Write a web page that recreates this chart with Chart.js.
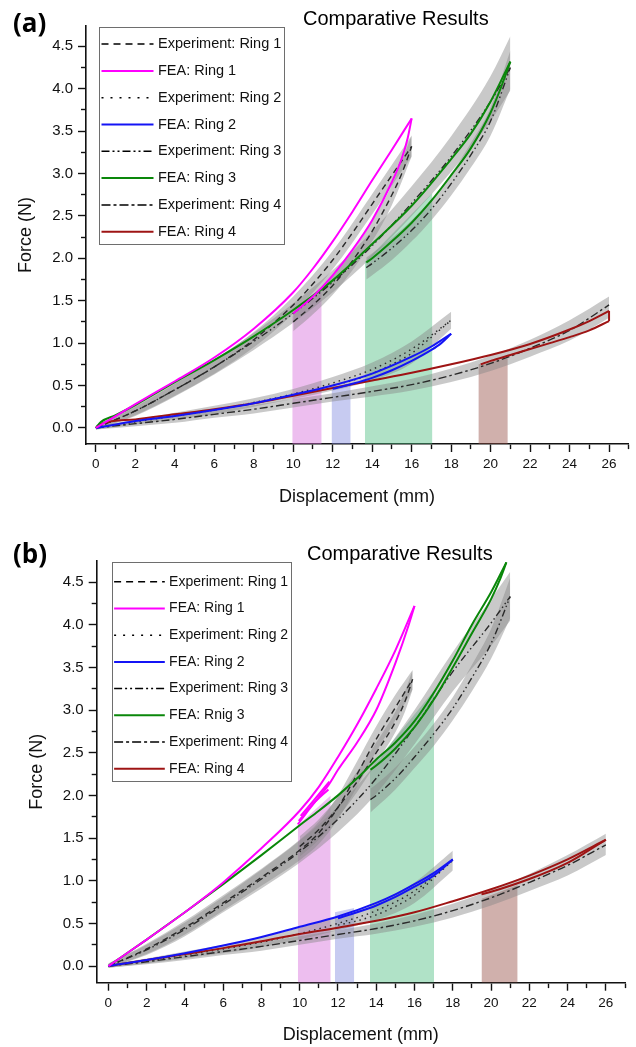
<!DOCTYPE html>
<html>
<head>
<meta charset="utf-8">
<script src="https://cdn.jsdelivr.net/npm/chart.js@4.4.0/dist/chart.umd.min.js"></script>
<style>
  body { margin: 0; background: #fff; width: 636px; height: 1047px; position: relative; overflow: hidden; font-family: "Liberation Sans", Arial, sans-serif; }
  canvas { position: absolute; left: 0; }
  #cvA { top: 0; }
  #cvB { top: 515px; }
  .tag { position: absolute; left: 13px; font-family: "Open Sans", sans-serif; font-weight: bold; font-size: 26px; line-height: 26px; }
  .ttl { position: absolute; font-size: 20px; line-height: 20px; color: #000; }
</style>
</head>
<body>
<canvas id="cvA" width="636" height="515"></canvas>
<canvas id="cvB" width="636" height="532"></canvas>
<div class="tag" style="top:9px">(a)</div>
<div class="ttl" style="left:303px;top:8px">Comparative Results</div>
<div class="tag" style="top:540px">(b)</div>
<div class="ttl" style="left:307px;top:543px">Comparative Results</div>
<script>
//---- ticks
var xTicks = [0,1,2,3,4,5,6,7,8,9,10,11,12,13,14,15,16,17,18,19,20,21,22,23,24,25,26,27];
var yTicks = [0,0.25,0.5,0.75,1,1.25,1.5,1.75,2,2.25,2.5,2.75,3,3.25,3.5,3.75,4,4.25,4.5];

//---- legend
var legendLabelsA = ['Experiment: Ring 1','FEA: Ring 1','Experiment: Ring 2','FEA: Ring 2','Experiment: Ring 3','FEA: Ring 3','Experiment: Ring 4','FEA: Ring 4'];
var legendLabelsB = ['Experiment: Ring 1','FEA: Ring 1','Experiment: Ring 2','FEA: Ring 2','Experiment: Ring 3','FEA: Rnig 3','Experiment: Ring 4','FEA: Ring 4'];

//---- panel (a) FEA loops (loading / unloading branch)
var aFea1Load   = [[0,0],[1,0.14],[2,0.28],[4,0.55],[6,0.83],[8,1.17],[10,1.6],[11,1.88],[12,2.2],[13,2.55],[14,2.92],[15,3.28],[16,3.65]];
var aFea1Unload = [[10,1.35],[11,1.55],[12,1.8],[13,2.1],[14,2.45],[15,2.9],[15.5,3.18],[15.8,3.42],[16,3.65]];
var aFea2Load   = [[0,0],[1,0.04],[2,0.08],[4,0.14],[6,0.21],[8,0.29],[10,0.39],[12,0.5],[14,0.64],[16,0.84],[17,0.96],[18,1.11]];
var aFea2Unload = [[12,0.46],[13,0.52],[14,0.59],[15,0.68],[16,0.79],[17,0.92],[17.5,1.0],[18,1.11]];
var aFea3Load   = [[0,0],[0.25,0.07],[1,0.15],[2,0.27],[4,0.54],[6,0.8],[8,1.08],[10,1.39],[12,1.74],[14,2.17],[16,2.62],[18,3.17],[19,3.47],[20,3.85],[21,4.32]];
var aFea3Unload = [[13.7,1.95],[14,2.0],[15,2.2],[16,2.42],[17,2.68],[18,2.98],[19,3.3],[20,3.72],[20.5,4.0],[21,4.32]];
var aFea4Load   = [[0,0],[0.3,0.05],[2,0.1],[4,0.16],[6,0.22],[8,0.29],[10,0.38],[12,0.47],[14,0.56],[16,0.65],[18,0.75],[20,0.86],[22,0.99],[24,1.16],[25,1.26],[26,1.38]];
var aFea4Unload = [[19.5,0.75],[20,0.79],[21,0.86],[22,0.93],[23,1.0],[24,1.07],[25,1.15],[26,1.26]];
var aFea4Tip    = [[26,1.26],[26,1.38]];

//---- panel (a) experiments: mean lines and grey scatter bands
var aExp1Load     = [[0,0],[2,0.2],[4,0.45],[6,0.72],[8,1.04],[10,1.45],[11,1.7],[12,1.98],[13,2.3],[14,2.64],[15,2.98],[16,3.32]];
var aExp1Unload   = [[10,1.25],[11,1.45],[12,1.68],[13,1.97],[14,2.32],[15,2.75],[15.5,3.0],[16,3.32]];
var aExp1LoadHi   = [[0,0.03],[2,0.25],[4,0.52],[6,0.8],[8,1.13],[10,1.55],[12,2.09],[14,2.76],[16,3.45]];
var aExp1LoadLo   = [[0,-0.02],[2,0.15],[4,0.38],[6,0.64],[8,0.95],[10,1.35],[12,1.87],[14,2.52],[16,3.2]];
var aExp1UnloadHi = [[10,1.36],[11,1.56],[12,1.79],[13,2.08],[14,2.44],[15,2.87],[16,3.45]];
var aExp1UnloadLo = [[10,1.14],[11,1.34],[12,1.57],[13,1.86],[14,2.2],[15,2.63],[16,3.2]];
var aExp2Load     = [[0,0],[2,0.07],[4,0.14],[6,0.21],[8,0.3],[10,0.4],[12,0.53],[14,0.69],[16,0.93],[18,1.27]];
var aExp2Unload   = [[12,0.5],[13,0.56],[14,0.64],[15,0.75],[16,0.88],[17,1.07],[18,1.27]];
var aExp2Hi       = [[0,0.02],[2,0.1],[4,0.18],[6,0.26],[8,0.35],[10,0.46],[12,0.6],[14,0.77],[16,1.02],[18,1.37]];
var aExp2Lo       = [[0,-0.02],[2,0.04],[4,0.1],[6,0.16],[8,0.25],[10,0.34],[12,0.44],[14,0.56],[16,0.76],[18,1.17]];
var aExp3Load     = [[0,0],[2,0.2],[4,0.45],[6,0.72],[8,1.02],[10,1.35],[12,1.72],[14,2.15],[16,2.65],[18,3.2],[20,3.85],[21,4.25]];
var aExp3Unload   = [[13.7,1.89],[14,1.94],[15,2.12],[16,2.33],[17,2.58],[18,2.88],[19,3.22],[20,3.62],[21,4.25]];
var aExp3LoadHi   = [[0,0.03],[2,0.26],[4,0.53],[6,0.81],[8,1.12],[10,1.47],[12,1.86],[14,2.32],[16,2.85],[18,3.44],[20,4.15],[21,4.62]];
var aExp3LoadLo   = [[0,-0.02],[2,0.14],[4,0.37],[6,0.63],[8,0.92],[10,1.24],[12,1.6],[14,2.02],[16,2.5],[18,3.02],[20,3.62],[21,3.98]];
var aExp3UnloadHi = [[13.7,2.01],[14,2.06],[15,2.24],[16,2.45],[17,2.7],[18,3.0],[19,3.36],[20,3.78],[21,4.45]];
var aExp3UnloadLo = [[13.7,1.75],[14,1.8],[15,1.98],[16,2.2],[17,2.45],[18,2.74],[19,3.07],[20,3.45],[21,4.0]];
var aExp4         = [[0,0],[2,0.05],[4,0.1],[6,0.16],[8,0.22],[10,0.29],[12,0.36],[14,0.43],[16,0.51],[18,0.62],[20,0.76],[22,0.94],[24,1.15],[26,1.45]];
var aExp4Hi       = [[0,0.02],[2,0.08],[4,0.14],[6,0.2],[8,0.27],[10,0.34],[12,0.41],[14,0.49],[16,0.58],[18,0.7],[20,0.85],[22,1.04],[24,1.27],[26,1.55]];
var aExp4Lo       = [[0,-0.02],[2,0.02],[4,0.06],[6,0.12],[8,0.17],[10,0.24],[12,0.31],[14,0.37],[16,0.44],[18,0.54],[20,0.67],[22,0.84],[24,1.03],[26,1.3]];

//---- panel (a) shaded ranges (top edge, filled down to axis)
var aPink  = [[9.95,1.32],[11.44,1.62]];
var aBlue  = [[11.94,0.48],[12.91,0.53]];
var aGreen = [[13.63,1.96],[17.05,2.77]];
var aBrown = [[19.38,0.75],[20.87,0.82]];

//---- panel (b) FEA loops
var bFea1Load   = [[0,0],[2,0.31],[4,0.63],[5,0.8],[6,0.98],[8,1.38],[10,1.82],[11,2.1],[12,2.45],[13,2.83],[14,3.25],[15,3.7],[16,4.22]];
var bFea1Unload = [[9.9,1.66],[10.5,1.84],[11,1.98],[11.5,2.12],[12,2.3],[13,2.62],[14,3.0],[15,3.55],[15.7,4.0],[16,4.22]];
var bFea1Cycle1 = [[9.95,1.7],[10.7,1.9],[11.5,2.07]];
var bFea1Cycle2 = [[10.05,1.76],[10.8,1.96],[11.55,2.16]];
var bFea2Load   = [[0,0],[2,0.07],[4,0.15],[6,0.24],[8,0.34],[10,0.46],[12,0.58],[14,0.74],[15,0.84],[16,0.96],[17,1.09],[18,1.25]];
var bFea2Unload = [[12,0.56],[13,0.63],[14,0.71],[15,0.81],[16,0.93],[17,1.06],[17.5,1.15],[18,1.25]];
var bFea3Load   = [[0,0],[2,0.31],[4,0.63],[6,0.96],[8,1.3],[10,1.65],[11,1.82],[12,2.0],[13,2.2],[14,2.42],[15,2.62],[16,2.87],[17,3.2],[18,3.58],[19,4.0],[20,4.38],[20.8,4.73]];
var bFea3Unload = [[13.7,2.3],[14,2.35],[15,2.55],[16,2.8],[17,3.12],[18,3.5],[19,3.9],[20,4.3],[20.5,4.55],[20.8,4.73]];
var bFea4Load   = [[0,0],[2,0.07],[4,0.14],[6,0.21],[8,0.29],[10,0.375],[12,0.45],[14,0.53],[16,0.63],[18,0.76],[20,0.9],[22,1.06],[24,1.25],[26,1.48]];
var bFea4Unload = [[19.5,0.84],[20,0.87],[22,1.02],[24,1.21],[25,1.34],[26,1.48]];

//---- panel (b) experiments
var bExp1Load     = [[0,0],[2,0.2],[4,0.45],[6,0.74],[8,1.04],[10,1.36],[11,1.56],[12,1.86],[13,2.25],[14,2.66],[15,3.03],[15.9,3.36]];
var bExp1Unload   = [[10,1.4],[11,1.6],[12,1.86],[13,2.16],[14,2.5],[15,2.86],[15.5,3.1],[15.9,3.36]];
var bExp1LoadHi   = [[0,0.03],[2,0.26],[4,0.53],[6,0.83],[8,1.14],[10,1.48],[11,1.69],[12,2.0],[13,2.4],[14,2.81],[15,3.18],[15.9,3.47]];
var bExp1LoadLo   = [[0,-0.02],[2,0.14],[4,0.37],[6,0.65],[8,0.94],[10,1.24],[11,1.43],[12,1.72],[13,2.1],[14,2.51],[15,2.88],[15.9,3.24]];
var bExp1UnloadHi = [[10,1.52],[11,1.72],[12,1.98],[13,2.28],[14,2.62],[15,2.98],[15.5,3.22],[15.9,3.47]];
var bExp1UnloadLo = [[10,1.28],[11,1.48],[12,1.74],[13,2.04],[14,2.38],[15,2.74],[15.5,2.98],[15.9,3.24]];
var bExp2Load     = [[0,0],[2,0.06],[4,0.13],[6,0.2],[8,0.28],[10,0.38],[12,0.5],[14,0.65],[16,0.88],[18,1.24]];
var bExp2Unload   = [[12,0.48],[13,0.53],[14,0.6],[15,0.7],[16,0.83],[17,1.03],[18,1.24]];
var bExp2Hi       = [[0,0.02],[2,0.09],[4,0.17],[6,0.25],[8,0.34],[10,0.45],[12,0.58],[14,0.74],[16,0.98],[18,1.35]];
var bExp2Lo       = [[0,-0.02],[2,0.03],[4,0.09],[6,0.15],[8,0.22],[10,0.31],[12,0.42],[14,0.54],[16,0.74],[18,1.12]];
var bExp3Load     = [[0,0],[2,0.19],[4,0.43],[6,0.72],[8,1.02],[10,1.34],[12,1.72],[14,2.2],[16,2.8],[18,3.45],[20,4.02],[21,4.33]];
var bExp3Unload   = [[13.7,1.95],[14,2.0],[15,2.2],[16,2.45],[17,2.72],[18,3.02],[19,3.38],[20,3.78],[21,4.33]];
var bExp3LoadHi   = [[0,0.03],[2,0.25],[4,0.51],[6,0.81],[8,1.13],[10,1.47],[12,1.87],[14,2.38],[16,3.0],[18,3.68],[20,4.3],[21,4.62]];
var bExp3LoadLo   = [[0,-0.02],[2,0.13],[4,0.35],[6,0.63],[8,0.91],[10,1.21],[12,1.57],[14,2.02],[16,2.6],[18,3.22],[20,3.75],[21,4.05]];
var bExp3UnloadHi = [[13.7,2.08],[14,2.13],[15,2.33],[16,2.57],[17,2.84],[18,3.15],[19,3.53],[20,3.95],[21,4.55]];
var bExp3UnloadLo = [[13.7,1.8],[14,1.86],[15,2.07],[16,2.32],[17,2.58],[18,2.88],[19,3.22],[20,3.6],[21,4.08]];
var bExp4         = [[0,0],[2,0.05],[4,0.11],[6,0.17],[8,0.23],[10,0.3],[12,0.37],[14,0.44],[16,0.53],[18,0.65],[20,0.8],[22,0.98],[24,1.18],[26,1.42]];
var bExp4Hi       = [[0,0.02],[2,0.08],[4,0.15],[6,0.21],[8,0.28],[10,0.35],[12,0.42],[14,0.5],[16,0.6],[18,0.73],[20,0.89],[22,1.08],[24,1.3],[26,1.55]];
var bExp4Lo       = [[0,-0.02],[2,0.02],[4,0.07],[6,0.13],[8,0.18],[10,0.25],[12,0.32],[14,0.38],[16,0.46],[18,0.57],[20,0.71],[22,0.88],[24,1.06],[26,1.3]];

//---- panel (b) shaded ranges
var bPink  = [[9.9,1.65],[11.62,2.0]];
var bBlue  = [[11.84,0.63],[12.85,0.68]];
var bGreen = [[13.67,2.31],[17.02,3.23]];
var bBrown = [[19.5,0.79],[21.39,0.95]];

//---- styles
var colFea1 = '#ff00ff', colFea2 = '#1414f5', colFea3 = '#0a870a', colFea4 = '#9e1414';
var expColor = '#2a2a2a';
var bandColor = 'rgba(135,135,135,0.45)';
var pinkFill = 'rgba(214,110,220,0.45)', blueFill = 'rgba(130,140,225,0.45)';
var greenFill = 'rgba(80,190,130,0.45)', brownFill = 'rgba(150,80,70,0.45)';
var dashExp1 = [6,4], dashExp2 = [1.5,4], dashExp3 = [7,3,1.5,3,1.5,3], dashExp4 = [8,3,2.5,3];
var legendStyles = [
  {color: '#000', dash: [7,5], width: 1.5},
  {color: colFea1, dash: [], width: 2},
  {color: '#000', dash: [2,7], width: 1.5},
  {color: colFea2, dash: [], width: 2},
  {color: '#000', dash: [8,3,2,3,2,3], width: 1.5},
  {color: colFea3, dash: [], width: 2},
  {color: '#000', dash: [9,3,3,3], width: 1.5},
  {color: colFea4, dash: [], width: 2}
];
var FONT = '"Liberation Sans", Arial, sans-serif';

function pts(arr) { return arr.map(function (p) { return {x: p[0], y: p[1]}; }); }

function lineSet(arr, color, width, dash, order) {
  return {data: pts(arr), borderColor: color, borderWidth: width, borderDash: dash,
          pointRadius: 0, fill: false, order: order, cubicInterpolationMode: 'monotone'};
}

function addBand(list, lo, hi) {
  list.push({data: pts(lo), borderColor: 'rgba(0,0,0,0)', borderWidth: 0, pointRadius: 0,
             fill: false, order: 3, cubicInterpolationMode: 'monotone'});
  list.push({data: pts(hi), borderColor: 'rgba(0,0,0,0)', borderWidth: 0, pointRadius: 0,
             fill: {target: list.length - 1}, backgroundColor: bandColor, order: 3,
             cubicInterpolationMode: 'monotone'});
}

function buildSets(s) {
  var list = [];
  s.shades.forEach(function (d) {
    list.push({data: pts(d[0]), borderColor: 'rgba(0,0,0,0)', borderWidth: 0, pointRadius: 0,
               fill: 'start', backgroundColor: d[1], order: 4});
  });
  s.bands.forEach(function (b) { addBand(list, b[0], b[1]); });
  s.exp.forEach(function (e) { list.push(lineSet(e[0], expColor, 1.4, e[1], 2)); });
  s.fea.forEach(function (f) { list.push(lineSet(f[0], f[1], 2, [], 1)); });
  return list;
}

// legend drawn inside the plot, like the Origin box
var inlineLegend = {
  id: 'inlineLegend',
  afterDraw: function (chart, args, o) {
    var ctx = chart.ctx, a = chart.chartArea;
    var x0 = Math.round(a.left + o.dx) + 0.5, y0 = Math.round(a.top + o.dy) + 0.5;
    ctx.save();
    ctx.strokeStyle = '#6e6e6e';
    ctx.lineWidth = 1;
    ctx.setLineDash([]);
    ctx.strokeRect(x0, y0, o.w, o.h);
    ctx.font = o.font + 'px ' + FONT;
    ctx.textBaseline = 'middle';
    o.labels.forEach(function (lab, i) {
      var y = y0 + o.first + i * o.step;
      var st = legendStyles[i];
      ctx.beginPath();
      ctx.setLineDash(st.dash);
      ctx.strokeStyle = st.color;
      ctx.lineWidth = st.width;
      ctx.moveTo(x0 + o.l0, y);
      ctx.lineTo(x0 + o.l1, y);
      ctx.stroke();
      ctx.setLineDash([]);
      ctx.fillStyle = '#111';
      ctx.fillText(lab, x0 + o.tx, y);
    });
    ctx.restore();
  }
};

function makeChart(id, p) {
  var isMinorX = function (v) { return Math.round(v) % 2 !== 0; };
  var isMinorY = function (v) { return Math.round(v * 100) % 50 !== 0; };
  return new Chart(document.getElementById(id), {
    type: 'line',
    data: {datasets: p.sets},
    plugins: [inlineLegend],
    options: {
      responsive: false,
      animation: false,
      events: [],
      layout: {padding: {left: 0, right: p.padR, top: p.padT, bottom: 0}},
      plugins: {
        legend: {display: false},
        tooltip: {enabled: false},
        inlineLegend: p.legend
      },
      scales: {
        x: {
          type: 'linear', min: p.xMin, max: p.xMax,
          afterBuildTicks: function (s) { s.ticks = xTicks.map(function (v) { return {value: v}; }); },
          afterFit: function (s) { s.height = p.xH; },
          ticks: {autoSkip: false, maxRotation: 0, padding: 4, color: '#111',
                  font: {size: 13.5, family: FONT},
                  callback: function (v) { return isMinorX(v) ? '' : String(v); }},
          // bottom ticks run from the axis outwards: keep the first 4.5px for minors
          grid: {drawOnChartArea: false, drawTicks: true, tickLength: 8, tickWidth: 1.4, tickColor: '#111',
                 tickBorderDash: function (c) { return (c.tick && isMinorX(c.tick.value)) ? [4.5, 60] : []; }},
          border: {display: true, color: '#111', width: 1.6},
          title: {display: true, text: 'Displacement (mm)', color: '#111',
                  font: {size: 18, family: FONT}, padding: {top: 0, bottom: p.xTitlePad}}
        },
        y: {
          type: 'linear', min: p.yMin, max: p.yMax,
          afterBuildTicks: function (s) { s.ticks = yTicks.map(function (v) { return {value: v}; }); },
          afterFit: function (s) { s.width = p.yW; },
          ticks: {autoSkip: false, padding: 5, color: '#111',
                  font: {size: 15, family: FONT},
                  callback: function (v) { return isMinorY(v) ? '' : v.toFixed(1); }},
          // left ticks run from the outer end to the axis: skip the outer part for minors
          grid: {drawOnChartArea: false, drawTicks: true, tickLength: 8, tickWidth: 1.4, tickColor: '#111',
                 tickBorderDash: function (c) { return (c.tick && isMinorY(c.tick.value)) ? [5, 3] : []; },
                 tickBorderDashOffset: function (c) { return (c.tick && isMinorY(c.tick.value)) ? 5 : 0; }},
          border: {display: true, color: '#111', width: 1.6},
          title: {display: true, text: 'Force (N)', color: '#111',
                  font: {size: 18, family: FONT}, padding: {top: p.yTitlePad, bottom: 0}}
        }
      }
    }
  });
}

var setsA = buildSets({
  shades: [[aPink, pinkFill], [aBlue, blueFill], [aGreen, greenFill], [aBrown, brownFill]],
  bands: [[aExp1LoadLo, aExp1LoadHi], [aExp1UnloadLo, aExp1UnloadHi], [aExp2Lo, aExp2Hi],
          [aExp3LoadLo, aExp3LoadHi], [aExp3UnloadLo, aExp3UnloadHi], [aExp4Lo, aExp4Hi]],
  exp: [[aExp1Load, dashExp1], [aExp1Unload, dashExp1], [aExp2Load, dashExp2], [aExp2Unload, dashExp2],
        [aExp3Load, dashExp3], [aExp3Unload, dashExp3], [aExp4, dashExp4]],
  fea: [[aFea1Load, colFea1], [aFea1Unload, colFea1], [aFea2Load, colFea2], [aFea2Unload, colFea2],
        [aFea3Load, colFea3], [aFea3Unload, colFea3],
        [aFea4Load, colFea4], [aFea4Unload, colFea4], [aFea4Tip, colFea4]]
});

var setsB = buildSets({
  shades: [[bPink, pinkFill], [bBlue, blueFill], [bGreen, greenFill], [bBrown, brownFill]],
  bands: [[bExp1LoadLo, bExp1LoadHi], [bExp1UnloadLo, bExp1UnloadHi], [bExp2Lo, bExp2Hi],
          [bExp3LoadLo, bExp3LoadHi], [bExp3UnloadLo, bExp3UnloadHi], [bExp4Lo, bExp4Hi]],
  exp: [[bExp1Load, dashExp1], [bExp1Unload, dashExp1], [bExp2Load, dashExp2], [bExp2Unload, dashExp2],
        [bExp3Load, dashExp3], [bExp3Unload, dashExp3], [bExp4, dashExp4]],
  fea: [[bFea1Load, colFea1], [bFea1Unload, colFea1], [bFea1Cycle1, colFea1], [bFea1Cycle2, colFea1],
        [bFea2Load, colFea2], [bFea2Unload, colFea2],
        [bFea3Load, colFea3], [bFea3Unload, colFea3], [bFea4Load, colFea4], [bFea4Unload, colFea4]]
});

makeChart('cvA', {
  sets: setsA, xMin: -0.5, xMax: 26.96, yMin: -0.19, yMax: 4.74,
  padR: 8, padT: 26, yW: 86, xH: 71, xTitlePad: 7.5, yTitlePad: 15,
  legend: {labels: legendLabelsA, dx: 13, dy: 0.7, w: 185, h: 217, first: 16.6, step: 26.8,
           l0: 2, l1: 54, tx: 58.5, font: 14.5}
});

makeChart('cvB', {
  sets: setsB, xMin: -0.61, xMax: 27.0, yMin: -0.195, yMax: 4.75,
  padR: 11, padT: 45.7, yW: 96.7, xH: 64.3, xTitlePad: 1.2, yTitlePad: 26,
  legend: {labels: legendLabelsB, dx: 15, dy: 1, w: 179, h: 219, first: 19.3, step: 26.7,
           l0: 1.6, l1: 52.3, tx: 56.6, font: 14}
});
</script>
</body>
</html>
